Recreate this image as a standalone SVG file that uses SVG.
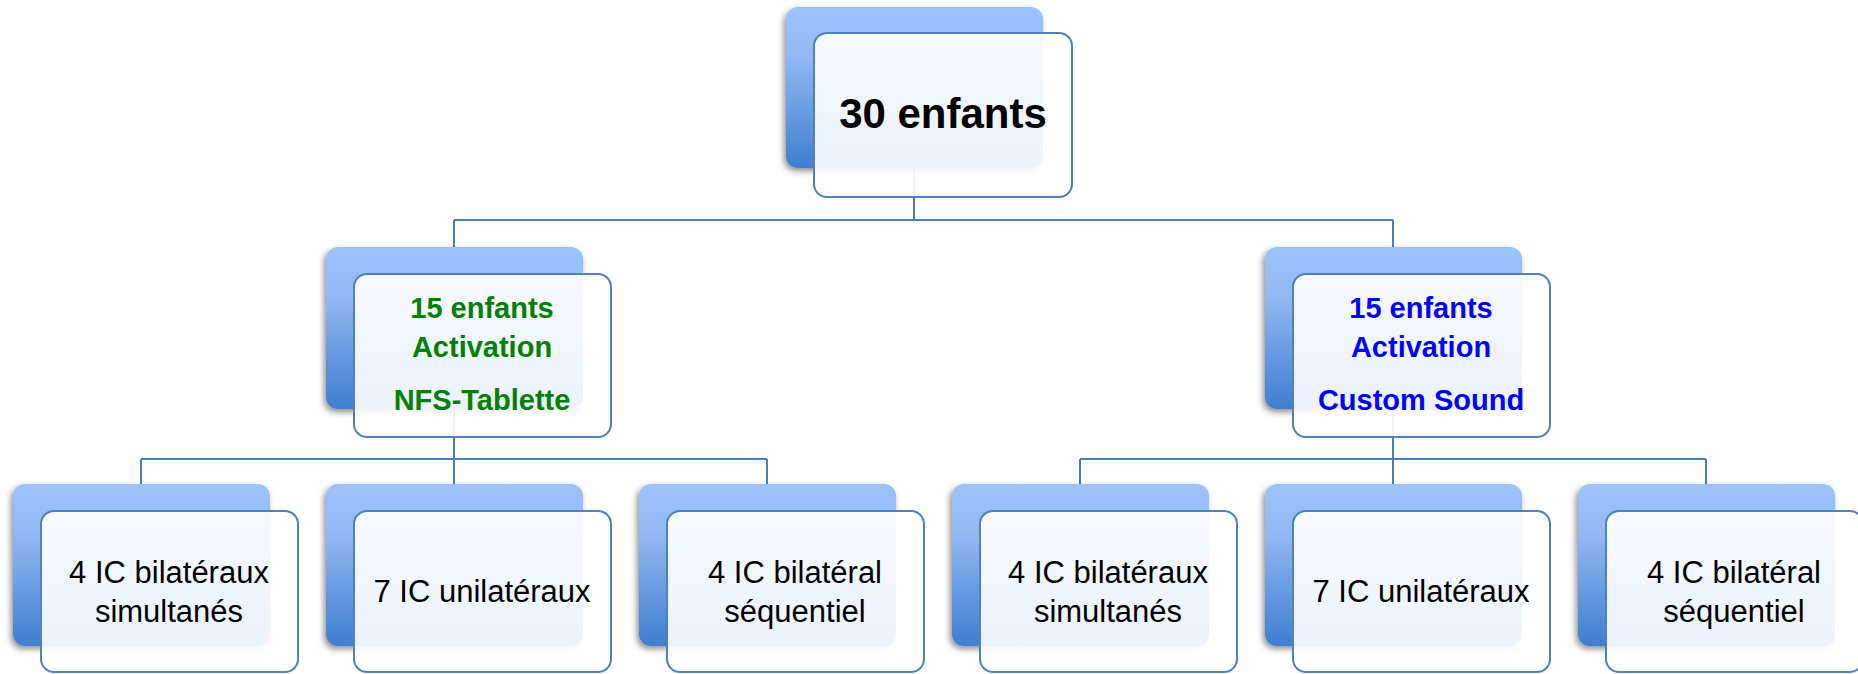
<svg xmlns="http://www.w3.org/2000/svg" width="1858" height="674" viewBox="0 0 1858 674">
<defs>
<linearGradient id="bg" x1="0" y1="0" x2="0" y2="1">
<stop offset="0" stop-color="#9dc3fb"/>
<stop offset="0.3" stop-color="#93b9f4"/>
<stop offset="1" stop-color="#3e7ecf"/>
</linearGradient>
<filter id="sh" x="-10%" y="-10%" width="120%" height="125%">
<feDropShadow dx="-2" dy="3" stdDeviation="3" flood-color="#000" flood-opacity="0.45"/>
</filter>
<style>
.back{fill:url(#bg);filter:url(#sh)}
.front{fill:#fff;fill-opacity:0.9;stroke:#4f81bd;stroke-width:2}
.conn{fill:none;stroke:#4a7ebb;stroke-width:2}
.t{font-family:"Liberation Sans",Arial,sans-serif;text-anchor:middle;fill:#000}
.big{font-size:42px;font-weight:bold}
.mid{font-size:29px;font-weight:bold}
.sm{font-size:31px}
.green{fill:#008000}
.blue{fill:#0000ff}
</style>
</defs>
<g id="connectors">
<path class="conn" d="M914 168V220M454 220H1393M454 220V247M1393 220V247"/>
<path class="conn" d="M454 409V459M141 459H767M141 459V484M454 459V484M767 459V484"/>
<path class="conn" d="M1393 409V459M1080 459H1706M1080 459V484M1393 459V484M1706 459V484"/>
</g>
<g id="n-root">
<rect class="back" x="786" y="7" width="257" height="161" rx="12"/>
<rect class="front" x="814" y="33" width="258" height="164" rx="13"/>
<text class="t big" x="943" y="128">30 enfants</text>
</g>
<g id="n-nfs">
<rect class="back" x="326" y="247" width="257" height="162" rx="12"/>
<rect class="front" x="354" y="274" width="257" height="163" rx="13"/>
<text class="t mid green" x="482" y="318">15 enfants</text>
<text class="t mid green" x="482" y="357">Activation</text>
<text class="t mid green" x="482" y="410">NFS-Tablette</text>
</g>
<g id="n-custom">
<rect class="back" x="1265" y="247" width="257" height="162" rx="12"/>
<rect class="front" x="1293" y="274" width="257" height="163" rx="13"/>
<text class="t mid blue" x="1421" y="318">15 enfants</text>
<text class="t mid blue" x="1421" y="357">Activation</text>
<text class="t mid blue" x="1421" y="410">Custom Sound</text>
</g>
<g id="n-l1">
<rect class="back" x="13" y="484" width="257" height="162" rx="12"/>
<rect class="front" x="41" y="511" width="257" height="161" rx="13"/>
<text class="t sm" x="169" y="583">4 IC bilatéraux</text>
<text class="t sm" x="169" y="622">simultanés</text>
</g>
<g id="n-l2">
<rect class="back" x="326" y="484" width="257" height="162" rx="12"/>
<rect class="front" x="354" y="511" width="257" height="161" rx="13"/>
<text class="t sm" x="482" y="602">7 IC unilatéraux</text>
</g>
<g id="n-l3">
<rect class="back" x="639" y="484" width="257" height="162" rx="12"/>
<rect class="front" x="667" y="511" width="257" height="161" rx="13"/>
<text class="t sm" x="795" y="583">4 IC bilatéral</text>
<text class="t sm" x="795" y="622">séquentiel</text>
</g>
<g id="n-r1">
<rect class="back" x="952" y="484" width="257" height="162" rx="12"/>
<rect class="front" x="980" y="511" width="257" height="161" rx="13"/>
<text class="t sm" x="1108" y="583">4 IC bilatéraux</text>
<text class="t sm" x="1108" y="622">simultanés</text>
</g>
<g id="n-r2">
<rect class="back" x="1265" y="484" width="257" height="162" rx="12"/>
<rect class="front" x="1293" y="511" width="257" height="161" rx="13"/>
<text class="t sm" x="1421" y="602">7 IC unilatéraux</text>
</g>
<g id="n-r3">
<rect class="back" x="1578" y="484" width="257" height="162" rx="12"/>
<rect class="front" x="1606" y="511" width="257" height="161" rx="13"/>
<text class="t sm" x="1734" y="583">4 IC bilatéral</text>
<text class="t sm" x="1734" y="622">séquentiel</text>
</g>
</svg>
